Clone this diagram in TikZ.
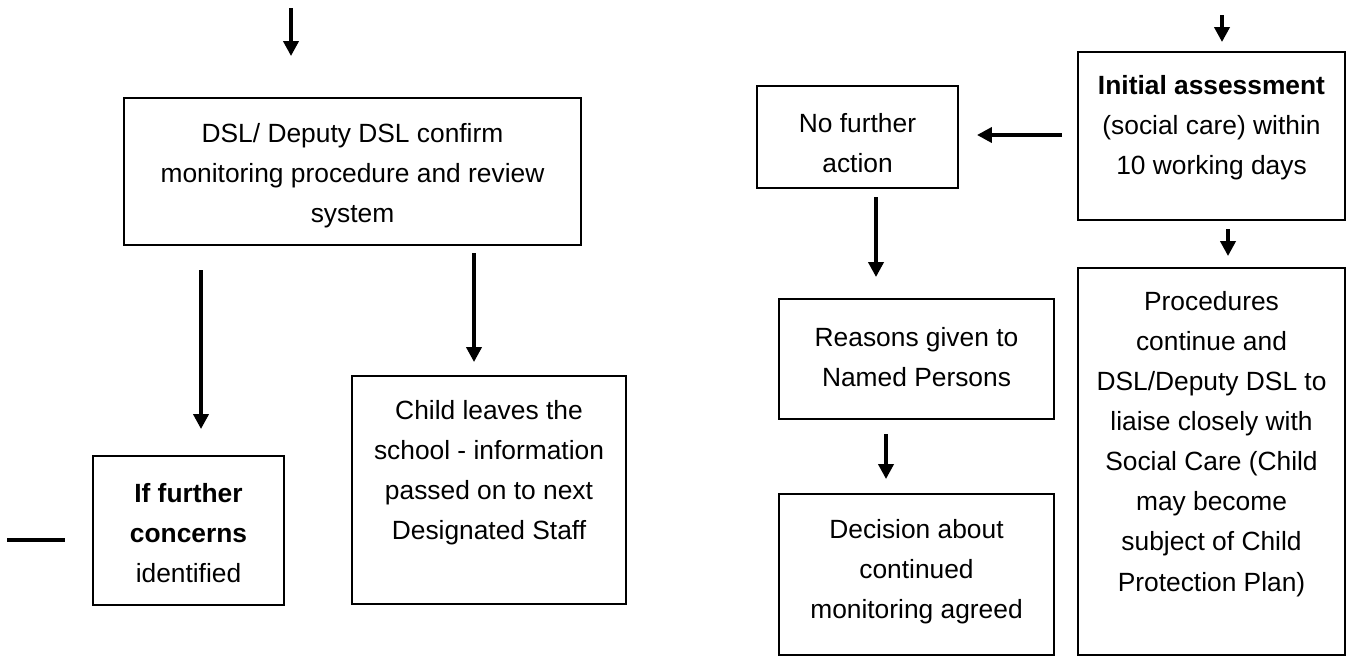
\documentclass[tikz,border=0pt]{standalone}
\usepackage{fontspec}
\setmainfont{Liberation Sans}
\usetikzlibrary{arrows.meta}

\begin{document}
\begin{tikzpicture}[x=0.02cm,y=-0.02cm,
		box/.style={draw,line width=1.1pt,inner sep=0pt},
		txt/.style={align=center,font=\fontsize{15}{22.8}\selectfont},
		arr/.style={line width=2.7pt,-{Triangle[width=0.3cm,length=0.3cm]}}]
			\useasboundingbox (0,0) rectangle (1354,659);
			
			% left column
			\node[box,minimum width=9.14cm,minimum height=2.94cm] (dsl) at (352.5,171.5) {};
			\node[txt] (dsltxt) at (352.5,176) {DSL/ Deputy DSL confirm\\monitoring procedure and review\\system};
			\node[box,minimum width=3.82cm,minimum height=2.98cm] (further) at (188.5,530.5) {};
			\node[txt] (furthertxt) at (188.5,533) {\textbf{If further}\\\textbf{concerns}\\identified};
			\node[box,minimum width=5.48cm,minimum height=4.56cm] (leaves) at (489,490) {};
			\node[txt] (leavestxt) at (489,473) {Child leaves the\\school - information\\passed on to next\\Designated Staff};
			
			% right column
			\node[box,minimum width=4.02cm,minimum height=2.04cm] (nfa) at (857.5,137) {};
			\node[txt] (nfatxt) at (857.5,143) {No further\\action};
			\node[box,minimum width=5.34cm,minimum height=3.36cm] (initial) at (1211.5,136) {};
			\node[txt] (initialtxt) at (1211.5,128) {\textbf{Initial assessment}\\(social care) within\\10 working days};
			\node[box,minimum width=5.34cm,minimum height=7.74cm] (proc) at (1211.5,461.5) {};
			\node[txt] (proctxt) at (1211.5,444) {Procedures\\continue and\\DSL/Deputy DSL to\\liaise closely with\\Social Care (Child\\may become\\subject of Child\\Protection Plan)};
			\node[box,minimum width=5.5cm,minimum height=2.4cm] (reasons) at (916.5,359) {};
			\node[txt] (reasonstxt) at (916.5,357) {Reasons given to\\Named Persons};
			\node[box,minimum width=5.5cm,minimum height=3.22cm] (decision) at (916.5,574.5) {};
			\node[txt] (decisiontxt) at (916.5,572) {Decision about\\continued\\monitoring agreed};
			
			% loose ends
			\coordinate (in1) at (291,8);
			\coordinate (in2) at (1222,15);
			\coordinate (d1) at (201,270);
			\coordinate (d2) at (474,253);
			\coordinate (d3) at (1062,135);
			\coordinate (d4) at (876,197);
			\coordinate (d5) at (1228,229);
			\coordinate (d6) at (886,434);
			\coordinate (out1) at (7,540);
			
			\draw[arr,shorten >=0.82cm] (in1) -- (in1 |- dsl.north);
			\draw[arr,shorten >=0.52cm] (d1) -- (d1 |- further.north);
			\draw[arr,shorten >=0.26cm] (d2) -- (d2 |- leaves.north);
			\draw[arr,shorten >=0.18cm] (in2) -- (in2 |- initial.north);
			\draw[arr,shorten >=0.36cm] (d3) -- (d3 -| nfa.east);
			\draw[arr,shorten >=0.42cm] (d4) -- (d4 |- reasons.north);
			\draw[arr,shorten >=0.22cm] (d5) -- (d5 |- proc.north);
			\draw[arr,shorten >=0.28cm] (d6) -- (d6 |- decision.north);
			\draw[line width=2.4pt,shorten >=0.54cm] (out1) -- (out1 -| further.west);
		\end{tikzpicture}
\end{document}
